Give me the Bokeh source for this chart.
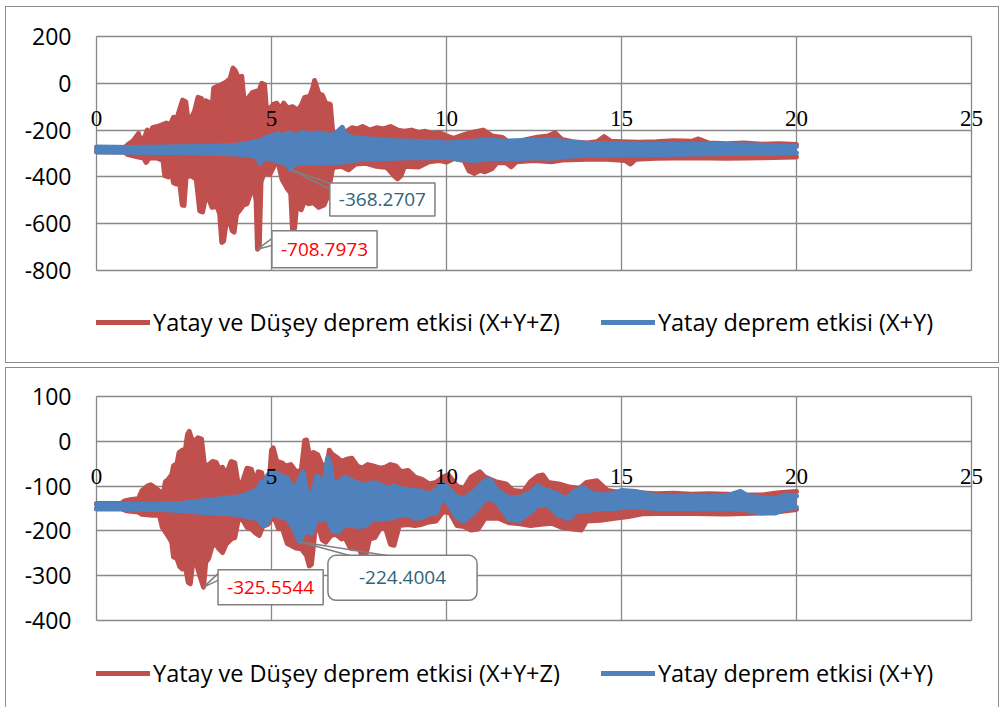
from bokeh.plotting import figure
from bokeh.layouts import column
from bokeh.models import (Range1d, FixedTicker, Legend, LegendItem, Label,
                          LabelSet, ColumnDataSource)
from bokeh.embed import file_html
from bokeh.resources import INLINE

FONT = "Open Sans"
RED = "#C0504D"
BLUE = "#4F81BD"
GRID = "#888888"
TEAL = "#2F6578"

# ---------------- data ----------------
x_ticks = [0, 5, 10, 15, 20, 25]
x_tick_labels = ["0", "5", "10", "15", "20", "25"]

top_y_ticks = [-800, -600, -400, -200, 0, 200]
top_y_labels = ["-800", "-600", "-400", "-200", "0", "200"]
bot_y_ticks = [-400, -300, -200, -100, 0, 100]
bot_y_labels = ["-400", "-300", "-200", "-100", "0", "100"]

series_names = ["Yatay ve Düşey deprem etkisi (X+Y+Z)", "Yatay deprem etkisi (X+Y)"]

# minima shown in call-outs (t, value)
top_red_min = (4.6, -708.7973)
top_blue_min = (5.54, -368.2707)
bot_red_min = (3.06, -325.5544)
bot_blue_min = (5.8, -224.4004)

# top chart: upper / lower envelopes (t, value)
top_red_upper = [(0, -278), (0.8, -276), (0.9, -262), (1.05, -245), (1.2, -215), (1.25, -240),
    (1.38, -230), (1.45, -200), (1.52, -235), (1.6, -190), (1.8, -182), (2.0, -170), (2.1, -180),
    (2.2, -145), (2.3, -150), (2.38, -110), (2.46, -72), (2.55, -80), (2.6, -140), (2.7, -150),
    (2.8, -120), (2.9, -60), (3.0, -65), (3.05, -150), (3.12, -75), (3.2, -80), (3.28, -140),
    (3.35, -20), (3.5, -10), (3.7, 5), (3.82, 20), (3.9, 65), (3.96, 55), (4.05, 25), (4.15, 30),
    (4.22, -80), (4.35, -60), (4.45, -40), (4.55, -35), (4.65, -30), (4.72, 0), (4.8, -5),
    (4.85, -100), (4.95, -110), (5.05, -90), (5.15, -85), (5.25, -110), (5.35, -85), (5.45, -105),
    (5.6, -100), (5.75, -115), (5.85, -95), (5.95, -60), (6.1, -55), (6.18, -20), (6.23, 12),
    (6.28, -10), (6.35, -45), (6.45, -50), (6.55, -85), (6.68, -90), (6.75, -210), (6.9, -215),
    (7.0, -230), (7.15, -205), (7.3, -190), (7.45, -195), (7.6, -185), (7.8, -200), (8.0, -190),
    (8.2, -195), (8.4, -185), (8.6, -200), (8.8, -205), (9.0, -200), (9.2, -210), (9.4, -205),
    (9.6, -215), (9.8, -210), (10.0, -225), (10.2, -235), (10.4, -225), (10.6, -215), (10.8, -208),
    (11.05, -200), (11.3, -225), (11.6, -232), (11.8, -255), (12.0, -250), (12.3, -240),
    (12.6, -230), (12.9, -225), (13.1, -212), (13.3, -240), (13.6, -250), (14.0, -255),
    (14.3, -250), (14.5, -228), (14.7, -248), (15.0, -250), (15.5, -252), (16.0, -250),
    (16.5, -245), (17.0, -248), (17.2, -238), (17.5, -255), (18.0, -258), (18.5, -255),
    (19.0, -260), (19.5, -258), (20.0, -262)]
top_red_lower = [(0, -292), (0.8, -294), (0.9, -305), (1.2, -315), (1.35, -320), (1.42, -338),
    (1.5, -320), (1.7, -318), (1.9, -330), (1.95, -395), (2.05, -400), (2.12, -360), (2.2, -425),
    (2.28, -430), (2.35, -390), (2.45, -520), (2.5, -522), (2.56, -400), (2.7, -395), (2.85, -410),
    (2.95, -545), (3.03, -550), (3.1, -500), (3.2, -490), (3.3, -530), (3.45, -525), (3.52, -560),
    (3.58, -680), (3.63, -675), (3.7, -600), (3.8, -590), (3.88, -630), (3.93, -636), (4.0, -560),
    (4.1, -540), (4.2, -520), (4.3, -515), (4.4, -470), (4.5, -455), (4.56, -500),
    (4.6, -708.7973), (4.65, -700), (4.7, -420), (4.8, -380), (4.95, -390), (5.1, -345),
    (5.2, -345), (5.3, -410), (5.45, -450), (5.55, -470), (5.6, -625), (5.66, -620), (5.72, -520),
    (5.85, -540), (5.95, -500), (6.05, -515), (6.2, -510), (6.35, -530), (6.5, -520), (6.6, -485),
    (6.66, -430), (6.75, -360), (7.0, -355), (7.2, -370), (7.4, -345), (7.7, -342), (8.0, -355),
    (8.3, -360), (8.5, -395), (8.6, -408), (8.7, -395), (8.8, -355), (9.2, -358), (9.5, -335),
    (9.8, -330), (10.0, -336), (10.2, -322), (10.5, -330), (10.65, -375), (10.8, -385),
    (10.95, -372), (11.1, -378), (11.3, -365), (11.45, -338), (11.7, -340), (11.85, -357),
    (12.0, -335), (12.5, -330), (13.0, -335), (13.3, -328), (14.0, -325), (14.6, -325),
    (15.1, -330), (15.25, -345), (15.4, -325), (16.0, -320), (17.0, -318), (18.0, -320),
    (19.0, -318), (20.0, -315)]
top_blue_upper = [(0, -272), (1, -274), (2, -272), (3, -270), (3.5, -268), (4.0, -265),
    (4.3, -258), (4.5, -250), (4.7, -245), (4.85, -232), (5.0, -225), (5.2, -215), (5.3, -225),
    (5.5, -212), (5.7, -222), (5.9, -210), (6.1, -218), (6.3, -212), (6.5, -215), (6.7, -225),
    (6.9, -205), (7.02, -188), (7.1, -215), (7.3, -230), (7.5, -235), (7.8, -238), (8.0, -240),
    (8.5, -245), (9.0, -248), (9.5, -250), (10.0, -255), (10.4, -252), (10.8, -248), (11.2, -240),
    (11.6, -248), (12.0, -245), (12.5, -242), (13.0, -240), (13.4, -250), (14.0, -256),
    (15.0, -258), (16.0, -260), (17.0, -262), (18.0, -262), (19.0, -265), (20.0, -270)]
top_blue_lower = [(0, -294), (1, -295), (2, -296), (3, -298), (3.5, -300), (4.0, -302),
    (4.4, -308), (4.6, -315), (4.68, -342), (4.75, -318), (5.0, -325), (5.2, -335), (5.4, -340),
    (5.54, -368.2707), (5.65, -345), (5.9, -340), (6.2, -342), (6.5, -338), (6.8, -340),
    (7.1, -335), (7.3, -330), (7.6, -325), (8.0, -322), (8.5, -320), (9.0, -318), (9.5, -318),
    (10.0, -315), (10.4, -325), (10.8, -330), (11.2, -322), (11.6, -320), (12.0, -322),
    (12.5, -318), (13.0, -320), (13.5, -312), (14.0, -308), (15.0, -306), (16.0, -304),
    (17.0, -302), (18.0, -300), (19.0, -300), (20.0, -298)]

# bottom chart
bot_red_upper = [(0, -139), (0.7, -139), (0.8, -133), (1.0, -130), (1.2, -128), (1.3, -110),
    (1.45, -100), (1.55, -97), (1.7, -105), (1.8, -112), (1.9, -120), (1.97, -90), (2.05, -85),
    (2.15, -75), (2.2, -55), (2.3, -50), (2.36, -25), (2.45, -20), (2.52, -30), (2.6, 15),
    (2.65, 22), (2.72, 5), (2.8, 0), (2.9, 8), (3.0, 5), (3.08, -50), (3.15, -55), (3.25, -50),
    (3.32, -45), (3.42, -47), (3.5, -62), (3.6, -58), (3.7, -75), (3.85, -45), (3.95, -48),
    (4.05, -97), (4.15, -95), (4.3, -60), (4.42, -62), (4.55, -95), (4.62, -68), (4.72, -70),
    (4.82, -110), (4.92, -112), (5.0, -20), (5.05, -15), (5.15, -45), (5.3, -48), (5.4, -55),
    (5.55, -52), (5.7, -68), (5.85, -65), (5.95, 2), (6.0, 3), (6.08, -30), (6.2, -25),
    (6.32, -30), (6.45, -55), (6.6, -50), (6.65, -20), (6.72, -28), (6.85, -35), (7.0, -45),
    (7.15, -40), (7.3, -38), (7.45, -55), (7.6, -60), (7.75, -52), (7.9, -55), (8.1, -60),
    (8.25, -58), (8.4, -52), (8.55, -55), (8.7, -68), (8.9, -65), (9.1, -80), (9.3, -85),
    (9.5, -95), (9.7, -92), (9.9, -80), (10.05, -75), (10.3, -100), (10.5, -105), (10.7, -80),
    (10.95, -68), (11.1, -80), (11.4, -90), (11.7, -95), (11.9, -110), (12.2, -112), (12.4, -90),
    (12.6, -78), (12.75, -75), (12.9, -92), (13.2, -95), (13.5, -102), (13.8, -105), (14.0, -92),
    (14.3, -88), (14.6, -110), (15.0, -115), (15.5, -115), (16.0, -117), (16.5, -116),
    (17.0, -118), (17.5, -117), (18.0, -118), (18.5, -120), (19.0, -120), (19.5, -115),
    (20.0, -112)]
bot_red_lower = [(0, -150), (0.7, -150), (0.85, -155), (1.2, -158), (1.3, -163), (1.6, -165),
    (1.8, -165), (1.88, -192), (1.95, -200), (2.05, -212), (2.15, -225), (2.2, -258), (2.3, -262),
    (2.38, -280), (2.45, -285), (2.52, -270), (2.62, -315), (2.68, -318), (2.75, -270),
    (2.85, -272), (2.95, -300), (3.06, -325.5544), (3.12, -270), (3.2, -262), (3.3, -235),
    (3.4, -228), (3.5, -240), (3.6, -248), (3.7, -230), (3.85, -218), (3.95, -215), (4.05, -175),
    (4.15, -172), (4.3, -192), (4.42, -195), (4.55, -205), (4.65, -210), (4.75, -190),
    (4.9, -185), (5.0, -172), (5.1, -175), (5.2, -195), (5.3, -192), (5.45, -228), (5.55, -232),
    (5.7, -238), (5.85, -240), (6.0, -255), (6.08, -278), (6.14, -275), (6.25, -195),
    (6.35, -192), (6.45, -220), (6.55, -225), (6.7, -210), (6.85, -208), (7.0, -218),
    (7.1, -215), (7.25, -238), (7.35, -240), (7.5, -235), (7.6, -262), (7.68, -260), (7.8, -218),
    (7.95, -215), (8.1, -195), (8.25, -192), (8.4, -230), (8.5, -232), (8.65, -188), (8.9, -186),
    (9.1, -188), (9.3, -185), (9.5, -180), (9.7, -178), (9.9, -157), (10.1, -160), (10.3, -188),
    (10.5, -190), (10.7, -198), (10.9, -196), (11.1, -172), (11.5, -172), (11.8, -182),
    (12.1, -184), (12.4, -188), (12.7, -185), (13.0, -183), (13.3, -192), (13.6, -196),
    (13.85, -198), (14.0, -178), (14.4, -176), (14.8, -172), (15.2, -168), (15.6, -162),
    (16.0, -161), (17.0, -161), (18.0, -162), (18.5, -161), (19.0, -160), (19.4, -158),
    (20.0, -152)]
bot_blue_upper = [(0, -141), (1.0, -141), (1.9, -140), (2.5, -138), (2.9, -134), (3.3, -131),
    (3.8, -126), (4.1, -124), (4.4, -115), (4.6, -108), (4.72, -90), (4.8, -92), (4.9, -75),
    (5.0, -68), (5.15, -72), (5.3, -78), (5.45, -82), (5.6, -105), (5.75, -95), (5.9, -68),
    (6.0, -110), (6.15, -120), (6.3, -78), (6.4, -85), (6.5, -100), (6.6, -38), (6.66, -45),
    (6.75, -90), (6.9, -92), (7.1, -80), (7.3, -88), (7.5, -95), (7.7, -98), (7.9, -92),
    (8.1, -97), (8.3, -105), (8.5, -100), (8.7, -105), (8.9, -108), (9.1, -110), (9.3, -112),
    (9.5, -118), (9.7, -110), (9.85, -95), (10.0, -100), (10.3, -125), (10.5, -128),
    (10.8, -112), (11.1, -88), (11.25, -86), (11.45, -110), (11.8, -126), (12.1, -125),
    (12.4, -115), (12.6, -100), (12.8, -108), (13.1, -115), (13.4, -128), (13.7, -110),
    (13.9, -103), (14.2, -118), (14.6, -120), (15.0, -110), (15.4, -112), (16.0, -122),
    (16.5, -124), (17.0, -122), (17.5, -124), (18.0, -122), (18.4, -112), (18.6, -122),
    (19.0, -126), (19.4, -128), (19.7, -120), (20.0, -122)]
bot_blue_lower = [(0, -151), (1.0, -151), (1.9, -152), (2.5, -155), (2.9, -158), (3.3, -160),
    (3.8, -162), (4.1, -164), (4.4, -170), (4.6, -172), (4.75, -188), (4.85, -185), (5.0, -160),
    (5.15, -165), (5.3, -170), (5.45, -172), (5.6, -190), (5.75, -215), (5.8, -224.4004),
    (5.88, -210), (6.0, -200), (6.15, -205), (6.3, -170), (6.45, -175), (6.6, -172), (6.75, -200),
    (6.9, -202), (7.1, -186), (7.3, -188), (7.5, -190), (7.7, -188), (7.9, -172), (8.1, -175),
    (8.3, -172), (8.5, -170), (8.7, -165), (8.9, -163), (9.1, -172), (9.3, -170), (9.5, -162),
    (9.7, -160), (9.85, -130), (10.0, -132), (10.3, -170), (10.5, -178), (10.8, -157),
    (11.1, -130), (11.3, -128), (11.5, -142), (11.8, -175), (12.1, -176), (12.4, -157),
    (12.6, -142), (12.9, -142), (13.2, -165), (13.5, -172), (13.7, -157), (14.0, -155),
    (14.4, -150), (14.8, -150), (15.2, -146), (15.6, -147), (16.0, -150), (16.5, -150),
    (17.0, -150), (17.5, -151), (18.0, -150), (18.5, -152), (19.0, -160), (19.4, -160),
    (19.7, -150), (20.0, -148)]

# ---------------- layout constants (pixels) ----------------
CANVAS_W = 994
FRAME_L, FRAME_R = 80, 992        # page x of the plotting frame
BOX_L, BOX_R = 96, 971            # page x of the drawn chart box (x = 0 .. 25)
CANVAS_X = 6
X_MIN, X_MAX = 0, 25


def split(pairs):
    return [a for a, _ in pairs], [b for _, b in pairs]


def make_chart(canvas_top, canvas_h, frame_top, box_top, box_bottom, y_box, y_ticks, y_labels,
               upper_lower, mins, legend_center, callouts, styles, margin):
    sx = (BOX_R - BOX_L) / float(X_MAX - X_MIN)
    sy = (box_bottom - box_top) / float(y_box[1] - y_box[0])
    frame_bottom = canvas_top + canvas_h
    x0 = X_MIN - (BOX_L - FRAME_L) / sx
    x1 = X_MAX + (FRAME_R - BOX_R) / sx
    y1 = y_box[1] + (box_top - frame_top) / sy
    y0 = y_box[0] - (frame_bottom - box_bottom) / sy

    p = figure(width=CANVAS_W, height=canvas_h, x_range=Range1d(x0, x1), y_range=Range1d(y0, y1),
               output_backend="svg", toolbar_location=None,
               min_border_left=FRAME_L - CANVAS_X, min_border_right=CANVAS_X + CANVAS_W - FRAME_R,
               min_border_top=frame_top - canvas_top, min_border_bottom=0,
               background_fill_color="white", border_fill_color="white", styles=styles)
    p.margin = margin
    p.xaxis.visible = False
    p.xgrid.ticker = FixedTicker(ticks=x_ticks)
    p.ygrid.ticker = FixedTicker(ticks=y_ticks)
    p.xgrid.bounds = (X_MIN, X_MAX)
    p.xgrid.cross_bounds = (y_box[0], y_box[1])
    p.ygrid.bounds = (y_box[0], y_box[1])
    p.ygrid.cross_bounds = (X_MIN, X_MAX)
    for g in (p.xgrid, p.ygrid):
        g.grid_line_color = GRID
        g.grid_line_width = 1.3
    p.outline_line_color = None

    ax = p.yaxis[0]
    ax.ticker = FixedTicker(ticks=y_ticks)
    ax.major_label_overrides = {t: l for t, l in zip(y_ticks, y_labels)}
    ax.axis_line_color = None
    ax.major_tick_line_color = None
    ax.minor_tick_line_color = None
    ax.major_tick_out = 0
    ax.major_tick_in = 0
    ax.major_label_standoff = 9
    ax.major_label_text_font = FONT
    ax.major_label_text_font_size = "23px"
    ax.major_label_text_color = "black"

    legend_rs = []
    for color, (up, lo) in zip([RED, BLUE], upper_lower):
        ut, uv = split(up)
        lt, lv = split(lo)
        p.patch(ut + lt[::-1], uv + lv[::-1], fill_color=color, line_color=None)
        r = p.line(ut, uv, line_color=color, line_width=5, line_join="round", line_cap="round")
        p.line(lt, lv, line_color=color, line_width=5, line_join="round", line_cap="round")
        legend_rs.append(r)

    # x tick labels next to the zero line
    src = ColumnDataSource(dict(x=x_ticks, y=[0] * len(x_ticks), text=x_tick_labels))
    p.add_layout(LabelSet(x="x", y="y", text="text", source=src, y_offset=-35,
                          text_align="center", text_baseline="middle",
                          text_font=FONT, text_font_size="23px", text_color="black"))

    lh = 30
    legend = Legend(items=[LegendItem(label=n, renderers=[r]) for n, r in zip(series_names, legend_rs)],
                    orientation="horizontal",
                    location=(BOX_L - FRAME_L, frame_bottom - (legend_center + lh // 2)),
                    glyph_width=54, glyph_height=lh, label_height=lh, label_standoff=3,
                    spacing=41, padding=0, margin=0,
                    border_line_color=None, background_fill_alpha=0,
                    label_text_font=FONT, label_text_font_size="23.5px", label_text_color="black")
    p.add_layout(legend)

    for (t, v), c in zip(mins, callouts):
        pts = c["leader"]
        xs = [t + dx / sx for dx, dy in pts]
        ys = [v - dy / sy for dx, dy in pts]
        p.line(xs, ys, line_color="#7f7f7f", line_width=1.5)
        p.add_layout(Label(x=t, y=v, x_offset=c["off"][0], y_offset=c["off"][1],
                           text="%.4f" % v, text_align="center", text_baseline="middle",
                           text_font=FONT, text_font_size="19px", text_color=c["color"],
                           background_fill_color="white", border_line_color="#7f7f7f",
                           border_line_width=1.5, padding=c["pad"],
                           border_radius=c.get("radius", 0)))
    return p


top_callouts = [
    dict(off=(67, 0), leader=[(15, -11), (0, 0), (15, -4)], color="#FF0000",
         pad=dict(left=9, right=9, top=12, bottom=12)),
    dict(off=(92, -30), leader=[(40, 14), (0, 0), (40, 20)], color=TEAL,
         pad=dict(left=9, right=9, top=10, bottom=10)),
]
bot_callouts = [
    dict(off=(67, 0), leader=[(15, -14), (0, 0), (15, -7)], color="#FF0000",
         pad=dict(left=9, right=9, top=11, bottom=11)),
    dict(off=(103, -36), leader=[(51, 14), (0, 0), (89, 14)], color=TEAL,
         pad=dict(left=31, right=31, top=16, bottom=16), radius=8),
]

BORDER = "1px solid #8c8c8c"
p1 = make_chart(7, 357, 28, 36, 270, (-800, 200), top_y_ticks, top_y_labels,
                [(top_red_upper, top_red_lower), (top_blue_upper, top_blue_lower)],
                [top_red_min, top_blue_min], 323, top_callouts,
                {"border": BORDER}, (6, 0, 0, 5))
p2 = make_chart(370, 340, 392, 398, 622, (-400, 100), bot_y_ticks, bot_y_labels,
                [(bot_red_upper, bot_red_lower), (bot_blue_upper, bot_blue_lower)],
                [bot_red_min, bot_blue_min], 676, bot_callouts,
                {"border": BORDER, "border-bottom": "none"}, (4, 0, 0, 5))

layout = column(p1, p2, spacing=0)
open("out.html", "w").write(file_html(layout, INLINE))
